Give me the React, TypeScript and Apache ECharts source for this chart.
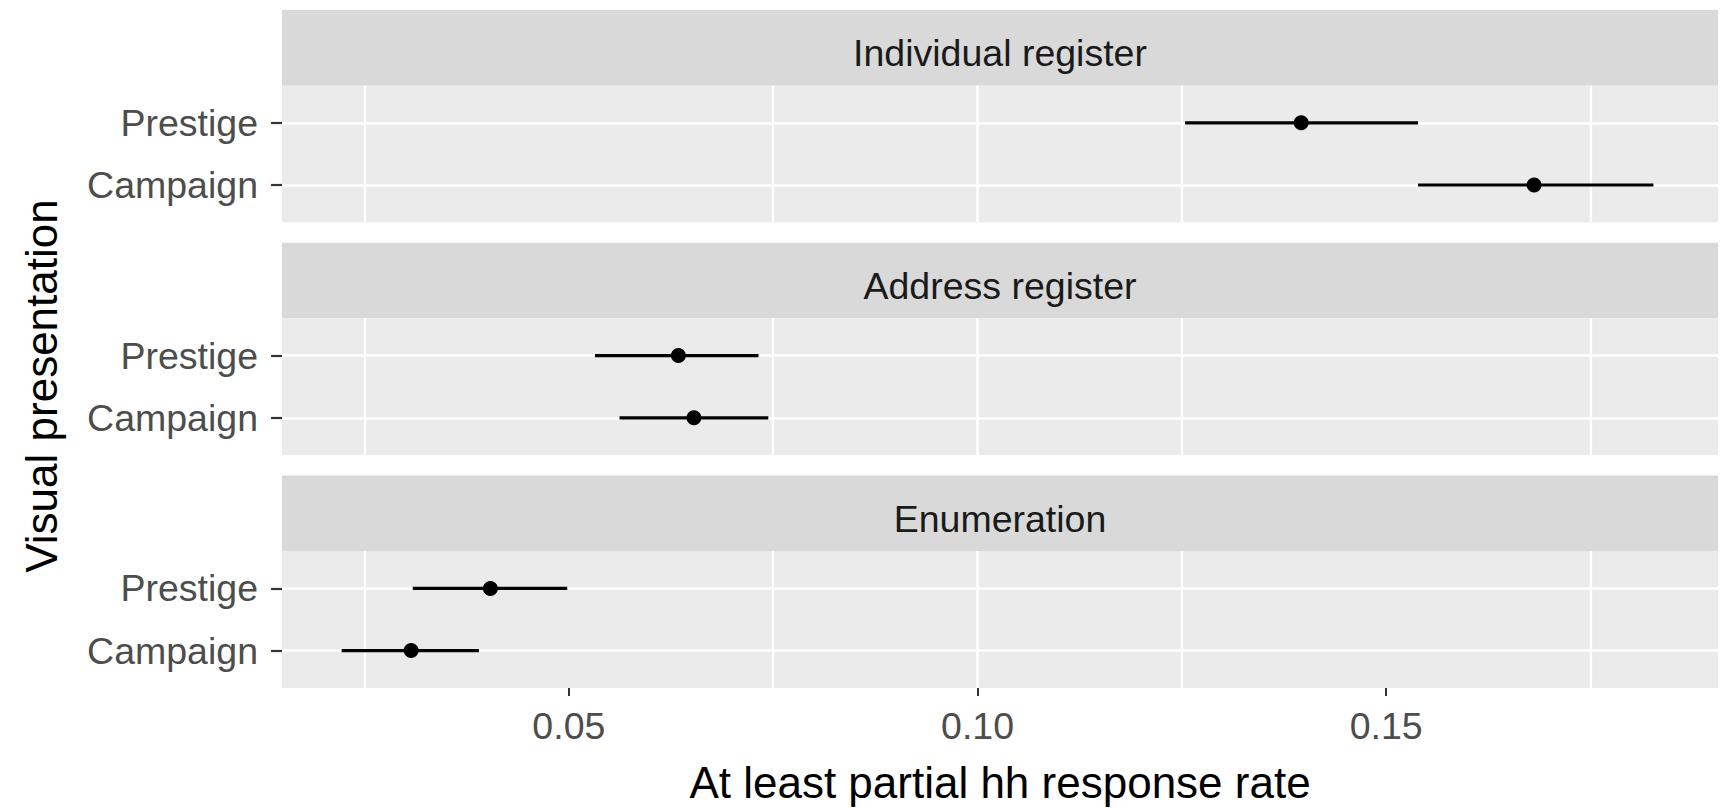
import React, { useEffect, useRef } from 'react';
import * as echarts from 'echarts';

// ---------- data ----------
const panelNames = ['Individual register', 'Address register', 'Enumeration'];
const categories = ['Campaign', 'Prestige'];
// values ordered as categories: [Campaign, Prestige]
const individualEst = [0.1681, 0.1396];
const individualLow = [0.1539, 0.1254];
const individualHigh = [0.1827, 0.1539];
const addressEst = [0.0653, 0.0634];
const addressLow = [0.0562, 0.0532];
const addressHigh = [0.0744, 0.0732];
const enumerationEst = [0.0307, 0.0404];
const enumerationLow = [0.0222, 0.0309];
const enumerationHigh = [0.039, 0.0498];
const xTickValues = [0.05, 0.1, 0.15];
const xMin = 0.0149;
const xMax = 0.1906;
const xTitle = 'At least partial hh response rate';
const yTitle = 'Visual presentation';

const panelEst = [individualEst, addressEst, enumerationEst];
const panelLow = [individualLow, addressLow, enumerationLow];
const panelHigh = [individualHigh, addressHigh, enumerationHigh];

// ---------- layout ----------
const W = 1721;
const H = 808;
const PANEL_LEFT = 282;
const PANEL_W = 1436;
const STRIP_TOPS = [10, 242.8, 475.6];
const STRIP_H = 75.5;
const PANEL_H = 136.8;
const UNIT = PANEL_H / 2.2;
const FONT = '"Liberation Sans", Arial, Helvetica, sans-serif';

export default function App() {
  const ref = useRef<HTMLDivElement>(null);

  useEffect(() => {
    if (!ref.current) return;
    const chart = echarts.init(ref.current, undefined, { renderer: 'svg', width: W, height: H });

    const grids: any[] = [];
    const xAxes: any[] = [];
    const yAxes: any[] = [];
    const series: any[] = [];
    const graphics: any[] = [];

    panelNames.forEach((name, i) => {
      const stripTop = STRIP_TOPS[i];
      const panelTop = stripTop + STRIP_H;
      const isLast = i === panelNames.length - 1;

      grids.push({
        left: PANEL_LEFT,
        top: panelTop,
        width: PANEL_W,
        height: PANEL_H,
        show: true,
        backgroundColor: '#EBEBEB',
        borderWidth: 0,
        containLabel: false,
      });
      grids.push({
        left: PANEL_LEFT,
        top: panelTop + 0.6 * UNIT,
        width: PANEL_W,
        height: UNIT,
        show: false,
        containLabel: false,
      });
      const bg = 2 * i;
      const dg = 2 * i + 1;

      xAxes.push({
        type: 'value',
        gridIndex: bg,
        min: xMin,
        max: xMax,
        splitNumber: 3,
        axisLine: { show: false },
        axisTick: {
          show: isLast,
          length: 8,
          customValues: xTickValues,
          lineStyle: { color: '#333333', width: 2 },
        },
        axisLabel: {
          show: isLast,
          customValues: xTickValues,
          formatter: (v: number) => v.toFixed(2),
          fontSize: 37.5,
          fontFamily: FONT,
          color: '#4D4D4D',
          margin: 38,
          verticalAlign: 'middle',
        },
        splitLine: {
          show: true,
          showMinLine: false,
          showMaxLine: false,
          lineStyle: { color: '#FFFFFF', width: 2.6 },
        },
        minorTick: { show: false, splitNumber: 2 },
        minorSplitLine: { show: true, lineStyle: { color: '#FFFFFF', width: 2.2 } },
      });
      yAxes.push({ type: 'value', gridIndex: bg, min: 0, max: 1, show: false });

      xAxes.push({ type: 'value', gridIndex: dg, min: xMin, max: xMax, show: false });
      yAxes.push({
        type: 'category',
        gridIndex: dg,
        data: categories,
        boundaryGap: false,
        axisLine: { show: false },
        axisTick: { show: true, length: 11, lineStyle: { color: '#333333', width: 2.2 } },
        axisLabel: {
          interval: 0,
          fontSize: 37.5,
          fontFamily: FONT,
          color: '#4D4D4D',
          margin: 24,
        },
        splitLine: { show: true, lineStyle: { color: '#FFFFFF', width: 2.6 } },
      });

      const est = panelEst[i];
      const low = panelLow[i];
      const high = panelHigh[i];

      series.push({
        type: 'custom',
        xAxisIndex: dg,
        yAxisIndex: dg,
        data: categories.map((_, j) => [j, low[j], est[j], high[j]]),
        encode: { x: [1, 2, 3], y: 0 },
        renderItem: (params: any, api: any) => {
          const y = api.value(0);
          const a = api.coord([api.value(1), y]);
          const b = api.coord([api.value(3), y]);
          return {
            type: 'line',
            shape: { x1: a[0], y1: a[1], x2: b[0], y2: b[1] },
            style: { stroke: '#000000', lineWidth: 3.2, opacity: 1 },
          };
        },
        z: 3,
      });
      series.push({
        type: 'scatter',
        xAxisIndex: dg,
        yAxisIndex: dg,
        data: categories.map((c, j) => [est[j], c]),
        symbol: 'circle',
        symbolSize: 15,
        itemStyle: { color: '#000000', opacity: 1 },
        z: 4,
      });

      graphics.push({
        type: 'rect',
        x: PANEL_LEFT,
        y: stripTop,
        shape: { x: 0, y: 0, width: PANEL_W, height: STRIP_H },
        style: { fill: '#D9D9D9' },
        silent: true,
      });
      graphics.push({
        type: 'text',
        x: PANEL_LEFT + PANEL_W / 2,
        y: stripTop + 43.3,
        style: {
          text: name,
          fontSize: 37.5,
          fontFamily: FONT,
          fill: '#1A1A1A',
          align: 'center',
          verticalAlign: 'middle',
        },
        silent: true,
      });
    });

    graphics.push({
      type: 'text',
      x: PANEL_LEFT + PANEL_W / 2,
      y: 782,
      style: {
        text: xTitle,
        fontSize: 44,
        fontFamily: FONT,
        fill: '#000000',
        align: 'center',
        verticalAlign: 'middle',
      },
      silent: true,
    });
    graphics.push({
      type: 'text',
      x: 41,
      y: 386,
      rotation: Math.PI / 2,
      style: {
        text: yTitle,
        fontSize: 44,
        fontFamily: FONT,
        fill: '#000000',
        align: 'center',
        verticalAlign: 'middle',
      },
      silent: true,
    });

    chart.setOption({
      animation: false,
      backgroundColor: '#FFFFFF',
      grid: grids,
      xAxis: xAxes,
      yAxis: yAxes,
      series,
      graphic: { elements: graphics },
    });

    return () => chart.dispose();
  }, []);

  return (
    <div
      ref={ref}
      style={{ position: 'fixed', left: 0, top: 0, width: W, height: H, background: '#FFFFFF' }}
    />
  );
}
